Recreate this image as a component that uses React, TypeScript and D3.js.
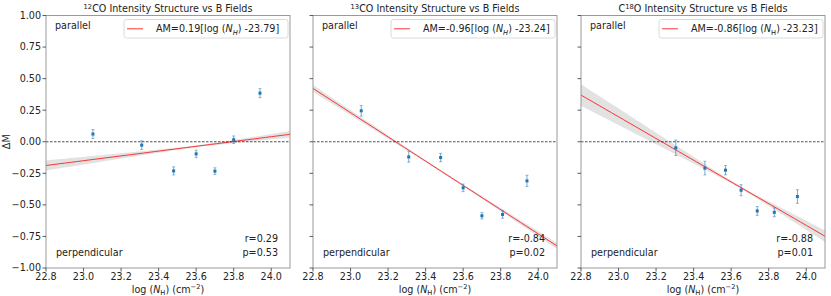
import React from "react";
import * as d3 from "d3";

// values
const xTicks = [22.8, 23.0, 23.2, 23.4, 23.6, 23.8, 24.0];
const yTicks = [1.0, 0.75, 0.5, 0.25, 0.0, -0.25, -0.5, -0.75, -1.0];

const isotopes = ["12", "13", "18"];

const nh12 = [23.05, 23.31, 23.48, 23.6, 23.7, 23.8, 23.94];
const am12 = [0.061, -0.027, -0.231, -0.096, -0.233, 0.016, 0.385];
const err12 = [0.036, 0.035, 0.032, 0.03, 0.027, 0.03, 0.036];

const nh13 = [23.057, 23.31, 23.48, 23.6, 23.7, 23.81, 23.94];
const am13 = [0.245, -0.12, -0.125, -0.365, -0.586, -0.576, -0.31];
const err13 = [0.042, 0.042, 0.033, 0.03, 0.025, 0.03, 0.045];

const nh18 = [23.305, 23.46, 23.57, 23.653, 23.739, 23.83, 23.953];
const am18 = [-0.048, -0.209, -0.225, -0.384, -0.548, -0.559, -0.434];
const err18 = [0.061, 0.054, 0.037, 0.044, 0.035, 0.035, 0.054];

const slopes = [0.19, -0.96, -0.86];
const pivots = [23.79, 23.24, 23.23];
const rValues = ["0.29", "-0.84", "-0.88"];
const pValues = ["0.53", "0.02", "0.01"];
const legendSlope = ["0.19", "-0.96", "-0.86"];
const legendPivot = ["23.79", "23.24", "23.23"];
// confidence band: narrowest point, min half width, growth
const bandCenter = [23.6, 23.5, 23.65];
const bandMin = [0.008, 0.008, 0.01];
const bandGrow = [0.049, 0.037, 0.1];

const W = 831;
const H = 296;
const panelLeft = [46, 313, 581];
const panelW = 244;
const top = 15.5;
const bottom = 268;
const FONT = "DejaVu Sans, sans-serif";
const FS = 9.6;
const BLUE = "#1f77b4";

const series = [
  { x: nh12, y: am12, e: err12 },
  { x: nh13, y: am13, e: err13 },
  { x: nh18, y: am18, e: err18 },
];

function Title({ i, cx }: { i: number; cx: number }) {
  const sup = { fontSize: FS * 0.7 };
  if (i < 2) {
    return (
      <text x={cx} y={11.5} textAnchor="middle" fontSize={FS} fill="#222">
        <tspan dy={-3} style={sup}>{isotopes[i]}</tspan>
        <tspan dy={3}>CO Intensity Structure vs B Fields</tspan>
      </text>
    );
  }
  return (
    <text x={cx} y={11.5} textAnchor="middle" fontSize={FS} fill="#222">
      C<tspan dy={-3} style={sup}>{isotopes[i]}</tspan>
      <tspan dy={3}>O Intensity Structure vs B Fields</tspan>
    </text>
  );
}

function Panel({ i }: { i: number }) {
  const left = panelLeft[i];
  const right = left + panelW;
  const x = d3.scaleLinear().domain([22.8, 24.1]).range([left, right]);
  const y = d3.scaleLinear().domain([-1, 1]).range([bottom, top]);
  const s = series[i];
  const fit = (v: number) => slopes[i] * (v - pivots[i]);
  const half = (v: number) =>
    Math.sqrt(bandMin[i] ** 2 + (bandGrow[i] * (v - bandCenter[i])) ** 2);
  const xs = d3.range(0, 41).map((k) => 22.8 + (1.3 * k) / 40);
  const band = d3
    .area<number>()
    .x((v) => x(v))
    .y0((v) => y(fit(v) - half(v)))
    .y1((v) => y(fit(v) + half(v)));
  const line = d3
    .line<number>()
    .x((v) => x(v))
    .y((v) => y(fit(v)));
  const cx = (left + right) / 2;
  const legLeft = right - 166;
  const italicH = i < 2;

  return (
    <g fontFamily={FONT}>
      <defs>
        <clipPath id={`clip${i}`}>
          <rect x={left} y={top} width={panelW} height={bottom - top} />
        </clipPath>
      </defs>
      <g clipPath={`url(#clip${i})`}>
        <path d={band(xs) || ""} fill="#d6d6d6" opacity={0.7} />
        <path d={line(xs) || ""} fill="none" stroke="#ff2020" strokeWidth={0.9} />
        <line
          x1={left}
          x2={right}
          y1={y(0)}
          y2={y(0)}
          stroke="#222"
          strokeWidth={0.8}
          strokeDasharray="2.5,1.5"
        />
        {s.x.map((v, k) => (
          <g key={k}>
            <line
              x1={x(v)}
              x2={x(v)}
              y1={y(s.y[k] - s.e[k])}
              y2={y(s.y[k] + s.e[k])}
              stroke={BLUE}
              strokeWidth={1}
              opacity={0.6}
            />
            <line x1={x(v) - 1.5} x2={x(v) + 1.5} y1={y(s.y[k] - s.e[k])} y2={y(s.y[k] - s.e[k])} stroke={BLUE} strokeWidth={0.8} opacity={0.6} />
            <line x1={x(v) - 1.5} x2={x(v) + 1.5} y1={y(s.y[k] + s.e[k])} y2={y(s.y[k] + s.e[k])} stroke={BLUE} strokeWidth={0.8} opacity={0.6} />
            <rect x={x(v) - 1.5} y={y(s.y[k]) - 1.5} width={3} height={3} fill={BLUE} />
          </g>
        ))}
      </g>
      {/* frame */}
      <rect x={left} y={top} width={panelW} height={bottom - top} fill="none" stroke="#999" strokeWidth={1} />
      {/* y ticks */}
      {yTicks.map((t) => (
        <g key={t}>
          <line x1={left - 3.5} x2={left} y1={y(t)} y2={y(t)} stroke="#333" strokeWidth={0.8} />
          {i === 0 && (
            <text x={left - 5} y={y(t)} dy="0.35em" textAnchor="end" fontSize={FS} fill="#222">
              {d3.format(".2f")(t).replace("-", "\u2212")}
            </text>
          )}
        </g>
      ))}
      {/* x ticks */}
      {xTicks.map((t) => (
        <g key={t}>
          <line x1={x(t)} x2={x(t)} y1={bottom} y2={bottom + 3.5} stroke="#333" strokeWidth={0.8} />
          <text x={x(t)} y={bottom + 12} textAnchor="middle" fontSize={FS} fill="#222">
            {d3.format(".1f")(t)}
          </text>
        </g>
      ))}
      <text x={cx} y={bottom + 24.5} textAnchor="middle" fontSize={FS} fill="#222">
        log (<tspan fontStyle="italic">N</tspan>
        <tspan dy={2.5} fontSize={FS * 0.7}>H</tspan>
        <tspan dy={-2.5}>) (cm</tspan>
        <tspan dy={-3.5} fontSize={FS * 0.7}>{"\u22122"}</tspan>
        <tspan dy={3.5}>)</tspan>
      </text>
      <Title i={i} cx={cx} />
      {/* annotations */}
      <text x={left + 9} y={top + 13} fontSize={FS} fill="#222">parallel</text>
      <text x={left + 10} y={bottom - 12} fontSize={FS} fill="#222">perpendicular</text>
      <text x={right - 12} y={bottom - 26} textAnchor="end" fontSize={FS} fill="#222">
        r={rValues[i]}
      </text>
      <text x={right - 12} y={bottom - 12.5} textAnchor="end" fontSize={FS} fill="#222">
        p={pValues[i]}
      </text>
      {/* legend */}
      <rect x={legLeft} y={top + 4} width={164} height={18.5} rx={2.5} fill="white" fillOpacity={0.8} stroke="#d0d0d0" strokeWidth={0.8} />
      <line x1={legLeft + 3} x2={legLeft + 19} y1={top + 13.3} y2={top + 13.3} stroke="#ff2020" strokeWidth={0.9} />
      <text x={legLeft + 32} y={top + 16.5} fontSize={FS} fill="#222">
        AM={legendSlope[i]}[log (<tspan fontStyle="italic">N</tspan>
        <tspan dy={2.5} fontSize={FS * 0.7} fontStyle={italicH ? "italic" : "normal"}>H</tspan>
        <tspan dy={-2.5}>) -{legendPivot[i]}]</tspan>
      </text>
    </g>
  );
}

export default function App() {
  return (
    <svg
      width={W}
      height={H}
      style={{ position: "absolute", left: 0, top: 0, background: "white" }}
    >
      <rect width={W} height={H} fill="white" />
      <text
        transform={`translate(10,${(top + bottom) / 2}) rotate(-90)`}
        textAnchor="middle"
        fontFamily={FONT}
        fontSize={FS}
        fill="#222"
      >
        ΔM
      </text>
      {[0, 1, 2].map((i) => (
        <Panel key={i} i={i} />
      ))}
    </svg>
  );
}
